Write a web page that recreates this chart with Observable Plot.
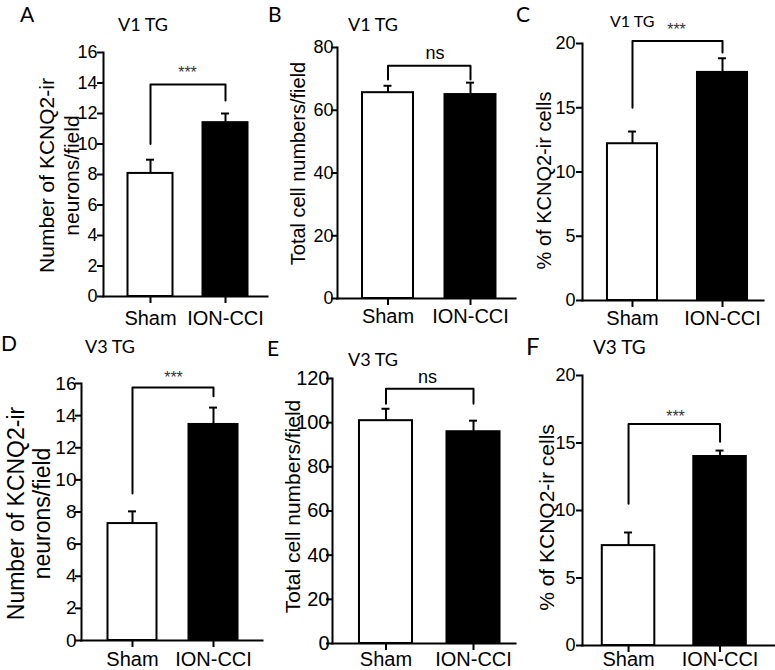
<!DOCTYPE html>
<html><head><meta charset="utf-8">
<script src="https://cdn.jsdelivr.net/npm/d3@7"></script>
<script src="https://cdn.jsdelivr.net/npm/@observablehq/plot@0.6"></script>
<style>
body{margin:0;background:#fff;}
#fig{position:relative;width:775px;height:670px;overflow:hidden;background:#fff;}
.panel{position:absolute;}
.lbl{position:absolute;font-family:Lato,"Open Sans",sans-serif;line-height:1;color:#000;white-space:nowrap;}
</style></head><body><div id="fig"></div>
<script>
// ---- data ----
const groups = ["Sham", "ION-CCI"];
const panelLetters = ["A", "B", "C", "D", "E", "F"];
const panelTitles = ["V1 TG", "V1 TG", "V1 TG", "V3 TG", "V3 TG", "V3 TG"];
const yLabels = [
  "Number of KCNQ2-ir\nneurons/field",
  "Total cell numbers/field",
  "% of KCNQ2-ir cells",
  "Number of KCNQ2-ir\nneurons/field",
  "Total cell numbers/field",
  "% of KCNQ2-ir cells"
];
// means and upper SEM
const meanA = [8.07, 11.4],  semA = [0.9, 0.6];
const meanB = [65.6, 65.0],  semB = [2.2, 3.8];
const meanC = [12.2, 17.75], semC = [0.95, 1.1];
const meanD = [7.28, 13.45], semD = [0.76, 1.05];
const meanE = [100.9, 95.9], semE = [5.4, 5.0];
const meanF = [7.4, 14.0],   semF = [0.97, 0.44];
// y-axis ticks
const ticksA = [0, 2, 4, 6, 8, 10, 12, 14, 16];
const ticksB = [0, 20, 40, 60, 80];
const ticksC = [0, 5, 10, 15, 20];
const ticksD = [0, 2, 4, 6, 8, 10, 12, 14, 16];
const ticksE = [0, 20, 40, 60, 80, 100, 120];
const ticksF = [0, 5, 10, 15, 20];
// significance brackets: [left leg end, right leg end], bracket level, label, label level
const legsA = [10.0, 12.85], topA = 13.9,  sigA = "***", sigYA = 14.9;
const legsB = [69.8, 69.8],  topB = 74.2,  sigB = "ns",  sigYB = 77.8;
const legsC = [15.0, 19.3],  topC = 20.2,  sigC = "***", sigYC = 21.4;
const legsD = [9.15, 15.2],  topD = 15.75, sigD = "***", sigYD = 16.6;
const legsE = [108.6, 108.6], topE = 115.4, sigE = "ns", sigYE = 119.9;
const legsF = [10.5, 15.1],  topF = 16.4,  sigF = "***", sigYF = 17.26;

const series = [
  {mean: meanA, sem: semA, ticks: ticksA, legs: legsA, top: topA, sig: sigA, sigY: sigYA},
  {mean: meanB, sem: semB, ticks: ticksB, legs: legsB, top: topB, sig: sigB, sigY: sigYB},
  {mean: meanC, sem: semC, ticks: ticksC, legs: legsC, top: topC, sig: sigC, sigY: sigYC},
  {mean: meanD, sem: semD, ticks: ticksD, legs: legsD, top: topD, sig: sigD, sigY: sigYD},
  {mean: meanE, sem: semE, ticks: ticksE, legs: legsE, top: topE, sig: sigE, sigY: sigYE},
  {mean: meanF, sem: semF, ticks: ticksF, legs: legsF, top: topF, sig: sigF, sigY: sigYF}
];

// ---- layout & style ----
const barColor = {"Sham": "#ffffff", "ION-CCI": "#000000"};
const layout = [
  {left: 0,   top: 0,   w: 267, h: 335, ml: 103, mr: 0, mt: 52, mb: 39, xr: [97.5, 277.5], pad: 0.4,   bw: 45,   xpad: 7,  tf: 18, tp: 0,  lf: 21, lh: 1.19, ldx: -45,   ldy: 1,    sdx: 2,    letter: [20, 2.5, 21],  title: [118, 15, 18]},
  {left: 258, top: 0,   w: 257, h: 335, ml: 79,  mr: 0, mt: 47, mb: 37, xr: [72.5, 269],   pad: 0.382, bw: 51,   xpad: 3,  tf: 18, tp: -2, lf: 20, lh: 1.2,  ldx: -40,   ldy: -9.5, sdx: 8.5,  letter: [268, 2.5, 21], title: [348, 15, 18]},
  {left: 512, top: 0,   w: 253, h: 335, ml: 70,  mr: 2, mt: 43, mb: 35, xr: [55, 275],     pad: 0.444, bw: 50,   xpad: 3,  tf: 18, tp: 1,  lf: 20, lh: 1.2,  ldx: -39,   ldy: 8.5,  sdx: 3.5,  letter: [516, 2.5, 21], title: [610, 12.5, 16]},
  {left: 0,   top: 335, w: 264, h: 335, ml: 81,  mr: 2, mt: 48, mb: 30, xr: [75.5, 269.5], pad: 0.395, bw: 49,   xpad: 4,  tf: 19, tp: -1, lf: 23, lh: 1.13, ldx: -53,   ldy: 1.5,  sdx: 1.5,  letter: [1, 331.5, 21],  title: [85, 337, 18]},
  {left: 258, top: 335, w: 259, h: 335, ml: 74,  mr: 2, mt: 43, mb: 27, xr: [66.5, 276],   pad: 0.394, bw: 53,   xpad: 1,  tf: 20, tp: -3, lf: 21, lh: 1.2,  ldx: -41,   ldy: -4.5, sdx: 3.5,  letter: [267, 336.5, 21], title: [348, 350, 18]},
  {left: 512, top: 335, w: 263, h: 335, ml: 70,  mr: 0, mt: 40, mb: 25, xr: [50.8, 272.8], pad: 0.426, bw: 52.5, xpad: -1, tf: 18, tp: 1,  lf: 21, lh: 1.2,  ldx: -37,   ldy: 7,    sdx: -3.5, letter: [526, 334, 24],  title: [593, 337, 19]}
];

const fig = document.getElementById("fig");

series.forEach((s, k) => {
  const L = layout[k];
  const rows = groups.map((g, i) => ({group: g, mean: s.mean[i], upper: s.mean[i] + s.sem[i]}));
  const bracket = [
    {group: groups[0], y: s.legs[0]},
    {group: groups[0], y: s.top},
    {group: groups[1], y: s.top},
    {group: groups[1], y: s.legs[1]}
  ];
  const sigRow = [{label: s.sig, y: s.sigY}];
  const isStars = s.sig.startsWith("*");
  const capInset = (L.bw - 8) / 2;
  const ymax = s.ticks[s.ticks.length - 1];

  const chart = Plot.plot({
    width: L.w, height: L.h,
    marginLeft: L.ml, marginRight: L.mr, marginTop: L.mt, marginBottom: L.mb,
    x: {type: "band", domain: groups, range: L.xr, padding: L.pad, round: false},
    y: {domain: [0, ymax]},
    color: {type: "identity"},
    style: {fontFamily: '"Liberation Sans", Arial, sans-serif', fontSize: "19px", color: "#000", background: "none", overflow: "visible"},
    marks: [
      Plot.barY(rows, {x: "group", y: "mean", fill: d => barColor[d.group], stroke: "#000", strokeWidth: 2}),
      Plot.ruleX(rows, {x: "group", y1: "mean", y2: "upper", stroke: "#000", strokeWidth: 2}),
      Plot.tickY(rows, {x: "group", y: "upper", stroke: "#000", strokeWidth: 2, insetLeft: capInset, insetRight: capInset}),
      Plot.line(bracket, {x: "group", y: "y", stroke: "#000", strokeWidth: 2}),
      Plot.text(sigRow, {y: "y", text: "label", dx: L.sdx, dy: isStars ? 4 : -1, fontSize: isStars ? 16 : 18, fill: isStars ? "#333" : "#000"}),
      Plot.frame({anchor: "left", stroke: "#000", strokeWidth: 2}),
      Plot.frame({anchor: "bottom", stroke: "#000", strokeWidth: 2}),
      Plot.axisY({ticks: s.ticks, tickSize: 6, tickPadding: L.tp, strokeWidth: 2, fontSize: L.tf, label: null}),
      Plot.axisX({tickSize: 7, tickPadding: L.xpad, strokeWidth: 2, fontSize: 20, label: null}),
      Plot.text([yLabels[k]], {text: d => d, frameAnchor: "left", rotate: -90, dx: L.ldx, dy: L.ldy, fontSize: L.lf, lineHeight: L.lh, textAnchor: "middle", lineAnchor: "middle"})
    ]
  });
  chart.classList.add("panel");
  chart.style.left = L.left + "px";
  chart.style.top = L.top + "px";
  fig.appendChild(chart);

  const letter = document.createElement("div");
  letter.className = "lbl";
  letter.textContent = panelLetters[k];
  letter.style.left = L.letter[0] + "px";
  letter.style.top = L.letter[1] + "px";
  letter.style.fontSize = L.letter[2] + "px";
  fig.appendChild(letter);

  const title = document.createElement("div");
  title.className = "lbl";
  title.textContent = panelTitles[k];
  title.style.left = L.title[0] + "px";
  title.style.top = L.title[1] + "px";
  title.style.fontSize = L.title[2] + "px";
  fig.appendChild(title);
});
</script>
</body></html>
